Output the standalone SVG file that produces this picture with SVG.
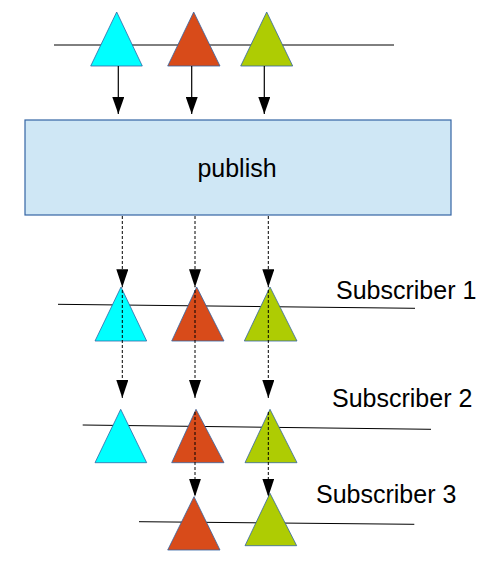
<svg xmlns="http://www.w3.org/2000/svg" width="498" height="566" viewBox="0 0 498 566">
<style>
.bg{fill:#ffffff}
.lane{stroke:#000000;stroke-width:1;fill:none}
.tri{stroke:#3465a4;stroke-width:0.8}
.cy{fill:#00ffff}
.rd{fill:#d84b1a}
.gr{fill:#aecc03}
.box{fill:#cfe7f5;stroke:#3465a4;stroke-width:1.2}
.lbl{font-family:"Liberation Sans",Arial,sans-serif;font-size:25px;fill:#000000}
.solid{stroke:#000000;stroke-width:1.2;fill:none}
.dash{stroke:#000000;stroke-width:1;fill:none;stroke-dasharray:3 2}
</style>
<defs>
<marker id="ah" viewBox="0 0 17 12" refX="17" refY="6" markerWidth="17" markerHeight="12" markerUnits="userSpaceOnUse" orient="auto">
<path d="M0,0 L17,6 L0,12 Z" fill="#000000"/>
</marker>
<marker id="ahd" viewBox="0 0 18 12" refX="18" refY="6" markerWidth="18" markerHeight="12" markerUnits="userSpaceOnUse" orient="auto">
<path d="M0,0 L18,6 L0,12 Z" fill="#000000"/>
</marker>
</defs>
<rect class="bg" x="0" y="0" width="498" height="566"/>

<g id="publisher">
<line class="lane" x1="54" y1="45" x2="394" y2="45"/>
<polygon class="tri cy" points="116.7,12 142.3,66 90.7,66"/>
<polygon class="tri rd" points="193.7,12 220,66 167.7,66"/>
<polygon class="tri gr" points="266.7,12 292.7,66 240.7,66"/>
</g>

<g id="publish">
<rect class="box" x="25" y="120" width="426" height="95"/>
<text class="lbl" x="237" y="176.5" text-anchor="middle">publish</text>
</g>

<g id="subscriber1">
<line class="lane" x1="58" y1="304.3" x2="415" y2="308.3"/>
<polygon class="tri cy" points="121,287 146.7,341 95,341"/>
<polygon class="tri rd" points="196.7,287 224,341 171.7,341"/>
<polygon class="tri gr" points="270,287 297,341 244.3,341"/>
<text class="lbl" x="336" y="299">Subscriber 1</text>
</g>

<g id="subscriber2">
<line class="lane" x1="82.7" y1="425" x2="431" y2="429.3"/>
<polygon class="tri cy" points="120.7,409.3 146.7,462.7 95,462.7"/>
<polygon class="tri rd" points="196,409.3 224,462.7 171.7,462.7"/>
<polygon class="tri gr" points="270,409.3 297,462.7 245,462.7"/>
<text class="lbl" x="332" y="407">Subscriber 2</text>
</g>

<g id="subscriber3">
<line class="lane" x1="139" y1="521.7" x2="414.3" y2="524.3"/>
<polygon class="tri rd" points="194,496.7 220,550 167.7,550"/>
<polygon class="tri gr" points="270,493.3 296.7,545.7 245,545.7"/>
<text class="lbl" x="316" y="503">Subscriber 3</text>
</g>

<g id="connectors">
<line class="solid" x1="118.3" y1="66" x2="118.3" y2="114" marker-end="url(#ah)"/>
<line class="solid" x1="191.7" y1="66" x2="191.7" y2="114" marker-end="url(#ah)"/>
<line class="solid" x1="264.3" y1="66" x2="264.3" y2="114" marker-end="url(#ah)"/>

<line class="dash" x1="122.3" y1="216" x2="122.3" y2="287.3" marker-end="url(#ahd)"/>
<line class="dash" x1="195" y1="216" x2="195" y2="287.3" marker-end="url(#ahd)"/>
<line class="dash" x1="268.3" y1="216" x2="268.3" y2="287.3" marker-end="url(#ahd)"/>

<line class="dash" x1="122.3" y1="290" x2="122.3" y2="398" marker-end="url(#ahd)"/>
<line class="dash" x1="195" y1="290" x2="195" y2="398" marker-end="url(#ahd)"/>
<line class="dash" x1="268.3" y1="290" x2="268.3" y2="398" marker-end="url(#ahd)"/>

<line class="dash" x1="195" y1="412" x2="195" y2="496.7" marker-end="url(#ahd)"/>
<line class="dash" x1="268.3" y1="412" x2="268.3" y2="496.7" marker-end="url(#ahd)"/>
</g>
</svg>
